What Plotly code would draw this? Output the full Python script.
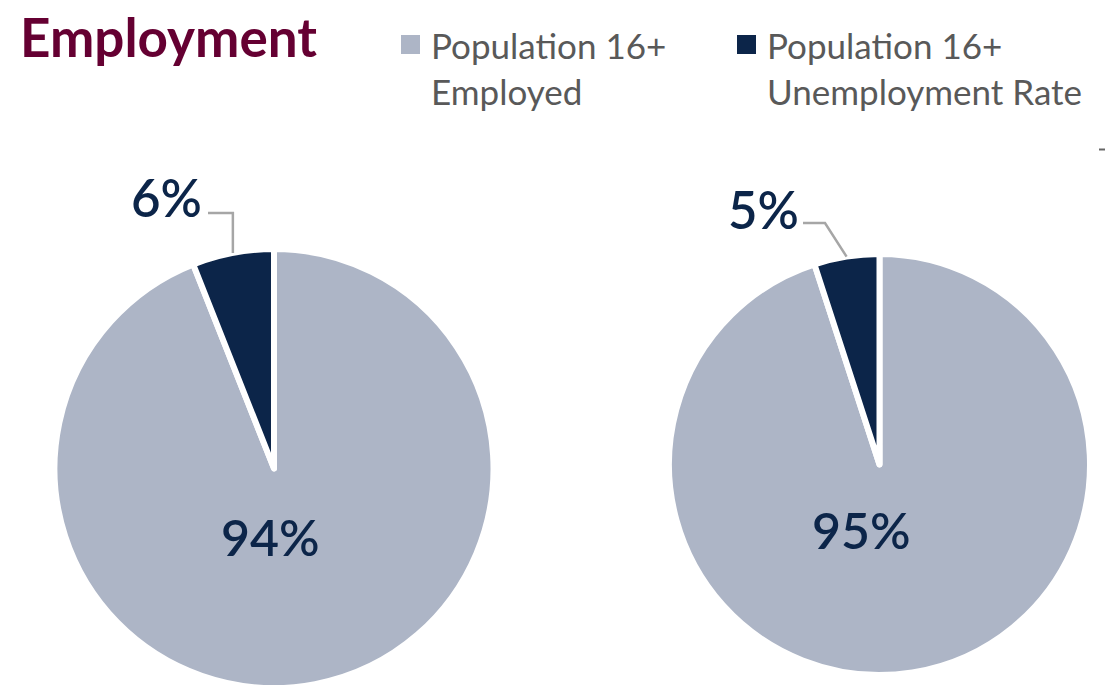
import math
import plotly.graph_objects as go

W, H = 1109, 692

# ---- data ----
categories = ["Population 16+ Unemployment Rate", "Population 16+ Employed"]
left_values = [6, 94]
right_values = [5, 95]
legend_labels = ["Population 16+<br>Employed", "Population 16+<br>Unemployment Rate"]
title_text = "Employment"

# ---- styles ----
NAVY = "#0C2549"
GRAY = "#ADB5C6"
MAROON = "#650032"
TEXT_GRAY = "#595959"
LINE_GRAY = "#A6A6A6"
FONT = "Lato"
slice_colors = [NAVY, GRAY]


def px(x):
    return x / W


def py(y):
    return 1 - y / H


# pie geometry (pixel centre, radius) and label placement
pies = [
    dict(values=left_values, cx=274, cy=468.5, r=216.5,
         elbow=(None, 213), end=208, small_label=(166, 196), big_label=(270, 535)),
    dict(values=right_values, cx=879.5, cy=464.5, r=207.5,
         elbow=(825, 223), end=803, small_label=(763.5, 207.5), big_label=(861, 528)),
]
PIE_PAD = 3  # plotly shrinks the drawn radius slightly

fig = go.Figure()
shapes = []
annotations = []

for p in pies:
    cx, cy, r = p["cx"], p["cy"], p["r"]
    rd = r + PIE_PAD
    # Employed first, clockwise from 12 o'clock -> Unemployed slice ends at 12 o'clock (left of top)
    fig.add_trace(go.Pie(
        labels=categories[::-1],
        values=p["values"][::-1],
        sort=False,
        direction="clockwise",
        rotation=0,
        marker=dict(colors=slice_colors[::-1], line=dict(color="white", width=6)),
        textinfo="none",
        hoverinfo="label+percent",
        showlegend=False,
        domain=dict(x=[px(cx - rd), px(cx + rd)], y=[py(cy + rd), py(cy - rd)]),
    ))
    total = sum(p["values"])
    small = p["values"][0]
    ang = math.radians(small / total * 360 / 2)
    sx = cx - (r + 3) * math.sin(ang)
    sy = cy - (r + 3) * math.cos(ang)
    ex = p["elbow"][0] if p["elbow"][0] is not None else sx
    ey = p["elbow"][1]
    path = f"M {px(sx)},{py(sy)} L {px(ex)},{py(ey)} L {px(p['end'])},{py(ey)}"
    shapes.append(dict(type="path", xref="paper", yref="paper", path=path,
                       line=dict(color=LINE_GRAY, width=2.5)))
    lx, ly = p["small_label"]
    annotations.append(dict(x=px(lx), y=py(ly + 1.5), xref="paper", yref="paper",
                            text=f"{small}%", showarrow=False, xanchor="center", yanchor="middle",
                            font=dict(family=FONT, size=51, color=NAVY, weight=600)))
    bx, by = p["big_label"]
    annotations.append(dict(x=px(bx), y=py(by + 1.5), xref="paper", yref="paper",
                            text=f"{p['values'][1]}%", showarrow=False, xanchor="center", yanchor="middle",
                            font=dict(family=FONT, size=50, color=NAVY, weight=600)))

# title
annotations.append(dict(x=px(18), y=py(3), xref="paper", yref="paper", text=f"<b>{title_text}</b>",
                        showarrow=False, xanchor="left", yanchor="top",
                        font=dict(family=FONT, size=53, color=MAROON)))

# legend
legend_items = [
    dict(sq=(401, 35, 420, 54), tx=429, color=GRAY, label=legend_labels[0]),
    dict(sq=(737, 35, 756, 54), tx=765, color=NAVY, label=legend_labels[1]),
]
for it in legend_items:
    x0, y0, x1, y1 = it["sq"]
    shapes.append(dict(type="rect", xref="paper", yref="paper",
                       x0=px(x0), x1=px(x1), y0=py(y1), y1=py(y0),
                       fillcolor=it["color"], line=dict(width=0)))
    annotations.append(dict(x=px(it["tx"]), y=py(22), xref="paper", yref="paper",
                            text=it["label"], showarrow=False, xanchor="left", yanchor="top",
                            align="left", font=dict(family=FONT, size=35, color=TEXT_GRAY)))

# small stray dash at right
shapes.append(dict(type="line", xref="paper", yref="paper", x0=px(1099), x1=px(1105),
                   y0=py(149.5), y1=py(149.5), line=dict(color="#666666", width=2)))

fig.update_layout(
    width=W, height=H,
    margin=dict(l=0, r=0, t=0, b=0),
    paper_bgcolor="white", plot_bgcolor="white",
    shapes=shapes, annotations=annotations,
    showlegend=False,
)

fig.write_html("out.html")
